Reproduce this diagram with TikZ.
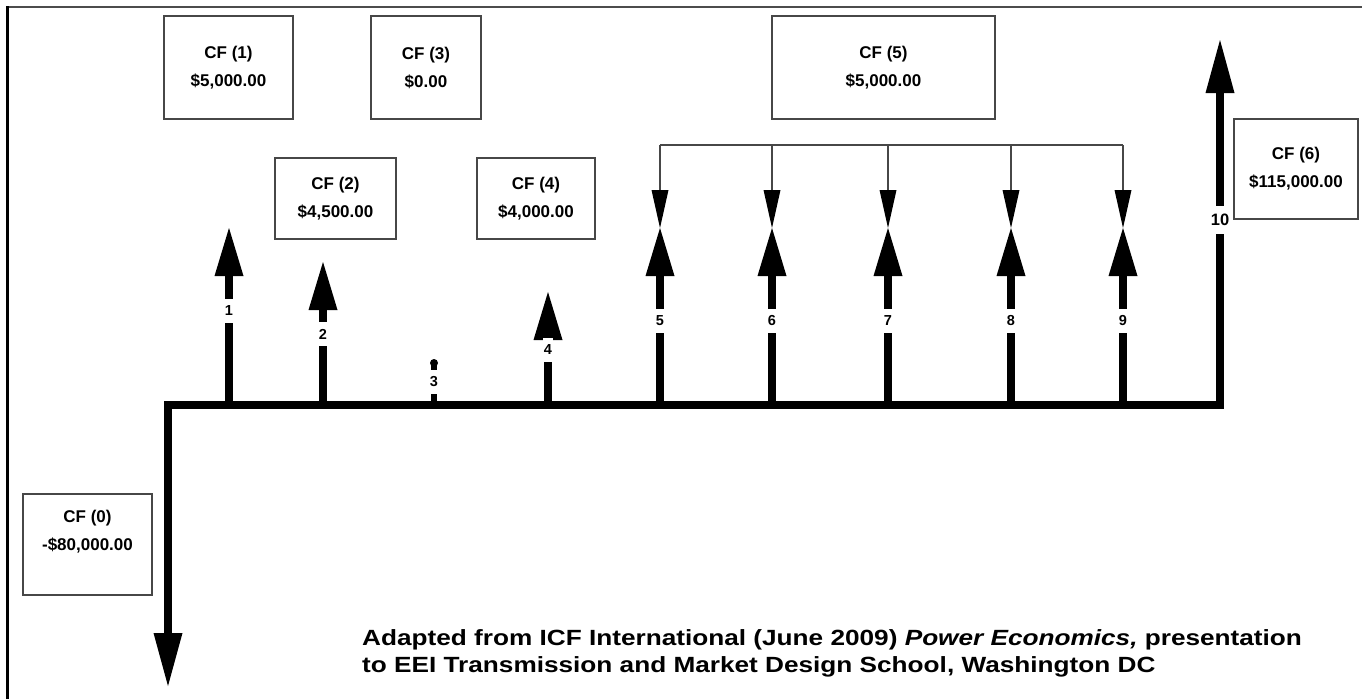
\documentclass[tikz,border=0pt]{standalone}
\usepackage{fontspec}
\usepackage{graphicx}
\setmainfont{Liberation Sans}
\usetikzlibrary{arrows.meta}
\begin{document}
\begin{tikzpicture}[x=1pt,y=-1pt,
  shaft/.style={line width=7.5pt, line join=miter, -{Triangle[width=29pt,length=48pt,line width=0pt]}},
  axisline/.style={line width=7.5pt, line join=miter, {Triangle[width=29pt,length=53pt,line width=0pt]}-{Triangle[width=29pt,length=53pt,line width=0pt]}},
  cfbox/.style={draw=black!72, line width=2.2pt, font=\fontsize{17}{28}\selectfont\bfseries, align=center, inner sep=0pt},
  num/.style={fill=white, inner xsep=1pt, inner ysep=7pt, font=\fontsize{14.5}{14.5}\selectfont\bfseries},
  brline/.style={draw=black!72, line width=2pt},
  brk/.style={draw=black!72, line width=2pt, -{Triangle[width=17pt,length=38pt,line width=0pt,color=black,fill=black]}},
  caption/.style={anchor=base west, inner sep=0pt, font=\fontsize{22}{27}\selectfont\bfseries}
]
\useasboundingbox (0,0) rectangle (1362,699);
% frame
\draw[black!70, line width=2pt] (7,7) -- (1362,7);
\draw[black, line width=2.6pt] (7.5,699) -- (7.5,6);

% boxes
\node[cfbox, minimum width=129pt, minimum height=103pt] (cf1) at (228.5,67.5) {CF (1)\\\$5,000.00};
\node[cfbox, minimum width=110pt, minimum height=103pt] (cf3) at (426,67.5) {CF (3)\\\$0.00};
\node[cfbox, minimum width=121pt, minimum height=81pt] (cf2) at (335.5,198.5) {CF (2)\\\$4,500.00};
\node[cfbox, minimum width=118pt, minimum height=81pt] (cf4) at (536,198.5) {CF (4)\\\$4,000.00};
\node[cfbox, minimum width=223pt, minimum height=103pt] (cf5) at (883.5,67.5) {CF (5)\\\$5,000.00};
\node[cfbox, minimum width=124pt, minimum height=100pt] (cf6) at (1296,169) {CF (6)\\\$115,000.00};
\node[cfbox, minimum width=129pt, minimum height=101pt] (cf0) at (87.5,544.5) {CF (0)\\-\$80,000.00\\\mbox{}};

% axis
\coordinate (down) at (168,686);
\coordinate (corner0) at (168,405);
\coordinate (corner10) at (1220,405);
\coordinate (up10) at (1220,40);
\draw[axisline] (down) -- (corner0) -- (corner10) -- (up10);
\node[num, font=\fontsize{16.5}{16.5}\selectfont\bfseries, inner ysep=8pt] (n10) at (1220,220) {10};

% period arrows
\foreach \i/\x/\t/\y in {1/229/228/311, 2/323/262/334, 4/548/292/350, 5/660/228/321, 6/772/228/321, 7/888/228/321, 8/1011/228/321, 9/1123/228/321}{
  \coordinate (b\i) at (\x,405);
  \coordinate (t\i) at (\x,\t);
  \draw[shaft] (b\i) -- (t\i);
  \node[num] (n\i) at (\x,\y) {\i};
}
% period 3 (zero cash flow)
\coordinate (b3) at (434,405);
\node[circle, fill=black, inner sep=0pt, minimum size=8pt] (d3) at (434,363) {};
\draw[line width=6pt] (b3) -- (d3.center);
\node[num] (n3) at (434,382) {3};

% CF(5) bracket
\foreach \i/\x in {5/660,6/772,7/888,8/1011,9/1123}{
  \coordinate (k\i) at (\x,145);
}
\draw[brline] (k5) -- (k9);
\foreach \i in {5,6,7,8,9}{
  \draw[brk] (k\i) -- (t\i);
}

% caption
\node[caption] (cap1) at (362,645) {\scalebox{1.19}[1]{Adapted from ICF International (June 2009) \textit{Power Economics,} presentation}};
\node[caption] (cap2) at (362,672) {\scalebox{1.19}[1]{to EEI Transmission and Market Design School, Washington DC}};
\end{tikzpicture}
\end{document}
